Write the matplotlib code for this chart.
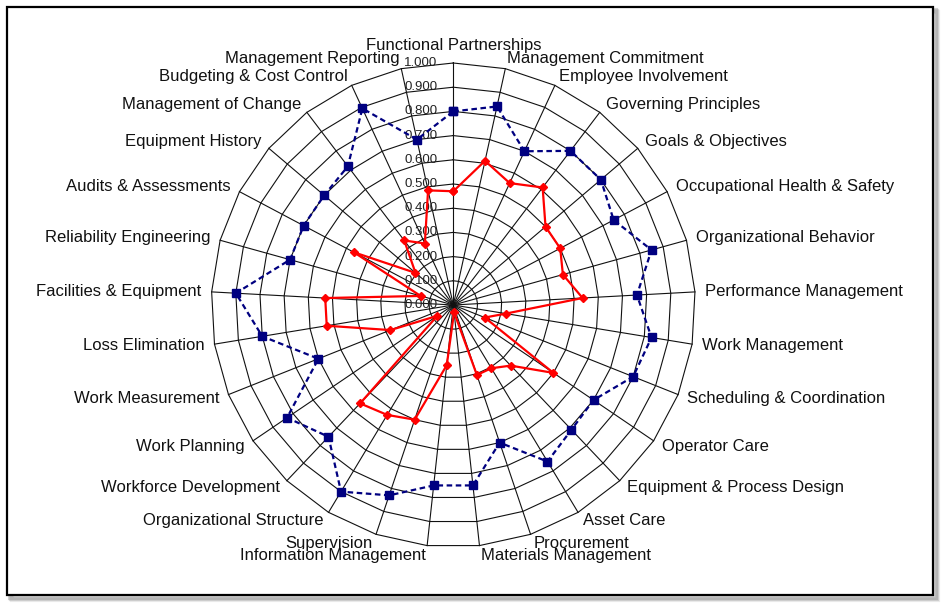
import numpy as np
import matplotlib
matplotlib.use("Agg")
from matplotlib import pyplot as plt
from matplotlib.patches import Rectangle

plt.rcParams['font.family'] = ['Liberation Sans', 'DejaVu Sans']

categories = [
    "Functional Partnerships", "Management Commitment", "Employee Involvement",
    "Governing Principles", "Goals & Objectives", "Occupational Health & Safety",
    "Organizational Behavior", "Performance Management", "Work Management",
    "Scheduling & Coordination", "Operator Care", "Equipment & Process Design",
    "Asset Care", "Procurement", "Materials Management", "Information Management",
    "Supervision", "Organizational Structure", "Workforce Development",
    "Work Planning", "Work Measurement", "Loss Elimination",
    "Facilities & Equipment", "Reliability Engineering", "Audits & Assessments",
    "Equipment History", "Management of Change", "Budgeting & Cost Control",
    "Management Reporting",
]
target = [0.80, 0.84, 0.70, 0.80, 0.80, 0.75, 0.85, 0.76, 0.83, 0.80,
          0.70, 0.71, 0.755, 0.60, 0.75, 0.75, 0.83, 0.90, 0.75, 0.83,
          0.60, 0.80, 0.90, 0.70, 0.70, 0.70, 0.72, 0.895, 0.70]
actual = [0.47, 0.61, 0.555, 0.61, 0.50, 0.50, 0.47, 0.535, 0.22, 0.14,
          0.50, 0.345, 0.305, 0.305, 0.03, 0.25, 0.50, 0.53, 0.56, 0.08,
          0.28, 0.53, 0.53, 0.14, 0.465, 0.205, 0.335, 0.28, 0.485]
ticks = [0.0, 0.1, 0.2, 0.3, 0.4, 0.5, 0.6, 0.7, 0.8, 0.9, 1.0]

W, H = 950, 613
cx, cy, R = 453.3, 305.0, 242.0   # centre and radius in pixels

n = len(categories)
theta = np.arange(n) * 2 * np.pi / n   # clockwise from the top


def to_xy(vals):
    # radar value -> cartesian, closed loop
    v = np.asarray(vals, dtype=float)
    x = v * np.sin(theta)
    y = v * np.cos(theta)
    return np.append(x, x[0]), np.append(y, y[0])


fig = plt.figure(figsize=(W / 100, H / 100), dpi=100, facecolor='white')
ax = fig.add_axes([0, 0, 1, 1])
ax.patch.set_alpha(0)
ax.set_xlim(-cx / R, (W - cx) / R)
ax.set_ylim(-(H - cy) / R, cy / R)
ax.axis('off')

# frame with a soft shadow
for k, a in [(5, 0.15), (4, 0.25), (3, 0.35)]:
    fig.patches.append(Rectangle((7 / W + k / W, 18 / H - k / H), 926 / W, 588 / H,
                                 transform=fig.transFigure, facecolor='none',
                                 edgecolor='gray', alpha=a, lw=3, zorder=-3))
fig.patches.append(Rectangle((7 / W, 18 / H), 926 / W, 588 / H,
                             transform=fig.transFigure, facecolor='white',
                             edgecolor='black', lw=1.6, zorder=-2))

# polygon grid and spokes
for r in ticks[1:]:
    gx, gy = to_xy([r] * n)
    ax.plot(gx, gy, color='#111111', lw=0.8, zorder=2)
for t in theta:
    ax.plot([0, np.sin(t)], [0, np.cos(t)], color='#111111', lw=0.8, zorder=2)

# value labels on the top spoke
for r in ticks:
    ax.text(-16 / R, r, f"{r:.3f}", ha='right', va='center', fontsize=9.5,
            color='#222222', zorder=3)

# series
bx, by = to_xy(target)
ax.plot(bx, by, color='#000080', lw=1.6, ls=(0, (2.5, 1.6)), marker='s',
        ms=5.2, zorder=4)
rx, ry = to_xy(actual)
ax.plot(rx, ry, color='#ff0000', lw=1.6, marker='D', ms=4.2, zorder=5)

# category labels
lab_r = 252 / R
for name, t in zip(categories, theta):
    s, c = np.sin(t), np.cos(t)
    if abs(s) < 0.05:
        ha, va = 'center', ('bottom' if c > 0 else 'top')
    else:
        ha, va = ('left' if s > 0 else 'right'), 'center'
    ax.text(lab_r * s, lab_r * c, name, ha=ha, va=va, fontsize=12,
            color='#111111', zorder=6)

fig.savefig("out.png", dpi=100)
